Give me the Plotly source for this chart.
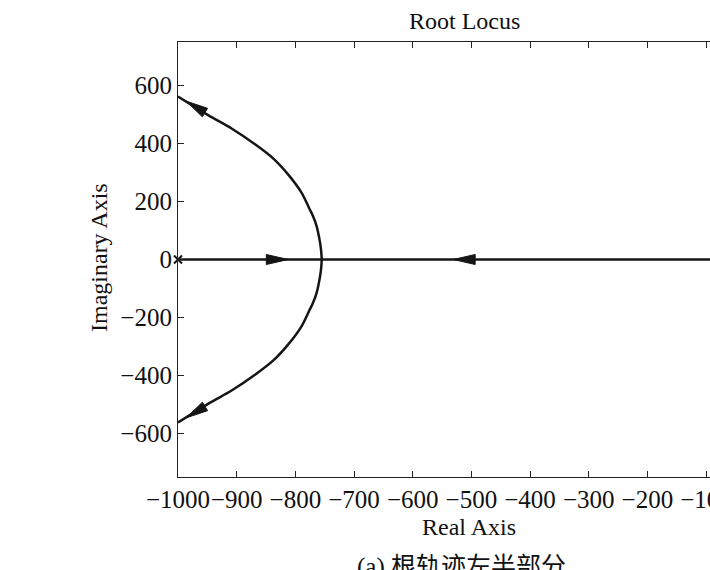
import math
import plotly.graph_objects as go

# Root locus data
upper_re = [-755, -756, -758, -764, -770, -776, -790, -811, -837, -870, -908, -948, -1000]
upper_im = [0, 30, 60, 117, 150, 175, 232, 290, 347, 399, 451, 497, 562]
lower_re = upper_re
lower_im = [-v for v in upper_im]
left_branch_re = [-1000, -755]
left_branch_im = [0, 0]
right_branch_re = [0, -755]
right_branch_im = [0, 0]
pole_re = [-1000]
pole_im = [0]

x_ticks = [-1000, -900, -800, -700, -600, -500, -400, -300, -200, -100, 0]
y_ticks = [-600, -400, -200, 0, 200, 400, 600]

# arrows: (tip_re, tip_im, tail_re, tail_im)
arrows = [
    (-812, 0, -900, 0),
    (-531, 0, -450, 0),
    (-986, 546, -930, 477),
    (-986, -546, -930, -477),
]

FONT = "Liberation Serif, Times New Roman, Noto Sans CJK SC, serif"
LW = 2.5
INK = "#151515"

plot_l, plot_t, plot_b = 178, 42, 477
W, H = 710, 570
pw = W - plot_l
ph = plot_b - plot_t
XSCALE = 0.5867            # px per unit (real axis)
YRANGE = [-750, 750]
YSCALE = ph / (YRANGE[1] - YRANGE[0])
XRANGE = [-1000, -1000 + pw / XSCALE]

fig = go.Figure()
for xs, ys, shp in [(upper_re, upper_im, "spline"), (lower_re, lower_im, "spline"),
                    (left_branch_re, left_branch_im, "linear"),
                    (right_branch_re, right_branch_im, "linear")]:
    fig.add_trace(go.Scatter(x=xs, y=ys, mode="lines",
                             line=dict(color=INK, width=LW, shape=shp, smoothing=1.0),
                             hoverinfo="skip", showlegend=False))
fig.add_trace(go.Scatter(x=pole_re, y=pole_im, mode="markers",
                         marker=dict(symbol="x-thin", size=8, line=dict(color=INK, width=2)),
                         cliponaxis=False, showlegend=False))

# narrow MATLAB-like arrowheads, built from arrow data via the axis scales
HEAD_L, HEAD_W = 22, 5.0
for tx, ty, sx, sy in arrows:
    dxp = (tx - sx) * XSCALE
    dyp = (ty - sy) * YSCALE
    n = math.hypot(dxp, dyp)
    ux, uy = dxp / n, dyp / n
    bx, by = -ux * HEAD_L, -uy * HEAD_L
    px1, py1 = bx - uy * HEAD_W, by + ux * HEAD_W
    px2, py2 = bx + uy * HEAD_W, by - ux * HEAD_W
    pts = [(0, 0), (px1, py1), (px2, py2)]
    path = "M " + " L ".join(f"{tx + a / XSCALE},{ty + b / YSCALE}" for a, b in pts) + " Z"
    fig.add_shape(type="path", path=path, xref="x", yref="y",
                  fillcolor=INK, line=dict(color=INK, width=1))

def px_to_paper(px, py):
    return (px - plot_l) / pw, (plot_b - py) / ph

def label(text, px, py, size, angle=0):
    x, y = px_to_paper(px, py)
    fig.add_annotation(x=x, y=y, xref="paper", yref="paper", text=text,
                       xanchor="center", yanchor="middle", textangle=angle,
                       showarrow=False, font=dict(family=FONT, size=size, color="#111"))

label("Root Locus", 464, 21, 24)
label("Real Axis", 469, 527, 24)
label("Imaginary Axis", 99, 258, 24, -90)
label("(a) 根轨迹左半部分", 461, 567, 25)

axis_common = dict(showgrid=False, zeroline=False, showline=True, linecolor="#222",
                   linewidth=1.2, ticks="inside", ticklen=6, tickcolor="#222",
                   tickfont=dict(family=FONT, size=25, color="#111"), automargin=False,
                   tickangle=0)
fig.update_xaxes(range=XRANGE, tickvals=x_ticks, mirror="ticks",
                 ticklabeloverflow="allow", **axis_common)
fig.update_yaxes(range=YRANGE, tickvals=y_ticks, mirror=False, **axis_common)

fig.update_layout(width=W, height=H, plot_bgcolor="white", paper_bgcolor="white",
                  margin=dict(l=plot_l, r=0, t=plot_t, b=H - plot_b, pad=0),
                  showlegend=False)

fig.write_html("out.html")
